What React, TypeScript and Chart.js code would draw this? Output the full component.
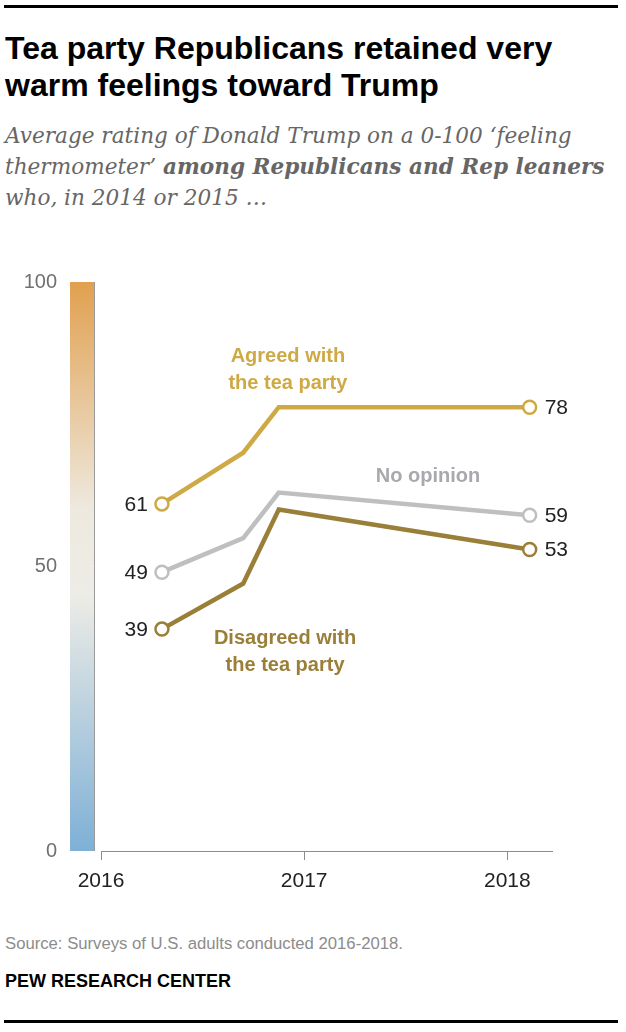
import React, { useEffect, useRef } from "react";
import { Chart, registerables } from "chart.js";

Chart.register(...registerables);

// survey dates as decimal years
const surveyDates = [2016.3, 2016.7, 2016.875, 2018.11];
const agreedValues = [61, 70, 78, 78];
const noOpinionValues = [49, 55, 63, 59];
const disagreedValues = [39, 47, 60, 53];
const seriesNames = ["Agreed with the tea party", "No opinion", "Disagreed with the tea party"];
const yTicks = [0, 50, 100];
const xTicks = [2016, 2017, 2018];

const GOLD = "#CEA945";
const GRAY = "#BEBFC1";
const OLIVE = "#9A7F38";

// in-chart labels, placed in data units
const annotations = [
  { lines: ["Agreed with", "the tea party"], x: 2016.92, y: 84.6, color: GOLD },
  { lines: ["No opinion"], x: 2017.61, y: 65.9, color: "#A7A9AC" },
  { lines: ["Disagreed with", "the tea party"], x: 2016.906, y: 35, color: OLIVE },
];

const sideBarPlugin = {
  id: "sideBar",
  beforeDatasetsDraw(chart: any) {
    const { ctx, scales } = chart;
    const top = scales.y.getPixelForValue(100);
    const bottom = scales.y.getPixelForValue(0);
    const g = ctx.createLinearGradient(0, bottom, 0, top);
    g.addColorStop(0, "#7EB0D6");
    g.addColorStop(0.45, "#EDECE6");
    g.addColorStop(0.6, "#EEE9DF");
    g.addColorStop(1, "#E1A04F");
    ctx.save();
    ctx.fillStyle = g;
    ctx.fillRect(70, top, 24, bottom - top);
    ctx.strokeStyle = "#9a9a9a";
    ctx.lineWidth = 1;
    ctx.beginPath();
    ctx.moveTo(94.5, top);
    ctx.lineTo(94.5, bottom);
    ctx.stroke();
    ctx.restore();
  },
};

const labelPlugin = {
  id: "valueLabels",
  afterDatasetsDraw(chart: any) {
    const { ctx, scales } = chart;
    ctx.save();
    ctx.font = "21px 'Liberation Sans', Arial, sans-serif";
    ctx.fillStyle = "#222";
    ctx.textBaseline = "middle";
    chart.data.datasets.forEach((ds: any, i: number) => {
      const meta = chart.getDatasetMeta(i);
      const first = meta.data[0];
      const last = meta.data[meta.data.length - 1];
      ctx.textAlign = "right";
      ctx.fillText(String(ds.data[0].y), first.x - 14, first.y + 1);
      ctx.textAlign = "left";
      ctx.fillText(String(ds.data[ds.data.length - 1].y), last.x + 15, last.y + 1);
    });
    ctx.font = "bold 20px 'Liberation Sans', Arial, sans-serif";
    ctx.textAlign = "center";
    annotations.forEach((a) => {
      const cx = scales.x.getPixelForValue(a.x);
      const cy = scales.y.getPixelForValue(a.y);
      ctx.fillStyle = a.color;
      const lh = 27;
      const y0 = cy - ((a.lines.length - 1) * lh) / 2;
      a.lines.forEach((t, k) => ctx.fillText(t, cx, y0 + k * lh));
    });
    ctx.restore();
  },
};

const ThermometerChart: React.FC = () => {
  const canvasRef = useRef<HTMLCanvasElement | null>(null);

  useEffect(() => {
    if (!canvasRef.current) return;
    const ctx = canvasRef.current.getContext("2d");
    if (!ctx) return;
    Chart.defaults.font.family = "'Liberation Sans', Arial, sans-serif";
    const make = (values: number[], color: string, label: string) => ({
      label,
      data: surveyDates.map((d, i) => ({ x: d, y: values[i] })),
      borderColor: color,
      backgroundColor: "#fff",
      borderWidth: 4.5,
      borderJoinStyle: "miter" as const,
      pointRadius: (c: any) => (c.dataIndex === 0 || c.dataIndex === surveyDates.length - 1 ? 6.5 : 0),
      pointBorderWidth: 2.5,
      pointBorderColor: color,
      pointBackgroundColor: "#fff",
      tension: 0,
    });
    const chart = new Chart(ctx, {
      type: "line",
      data: {
        datasets: [
          make(agreedValues, GOLD, seriesNames[0]),
          make(noOpinionValues, GRAY, seriesNames[1]),
          make(disagreedValues, OLIVE, seriesNames[2]),
        ],
      },
      options: {
        animation: false,
        responsive: false,
        events: [],
        layout: { padding: { left: 0, right: 74, top: 42, bottom: 0 } },
        plugins: { legend: { display: false }, tooltip: { enabled: false } },
        scales: {
          x: {
            type: "linear",
            min: 2016,
            max: 2018.22,
            afterBuildTicks: (s: any) => {
              s.ticks = xTicks.map((v) => ({ value: v }));
            },
            afterFit: (s: any) => {
              s.height = 49;
              s.paddingLeft = 0;
              s.paddingRight = 0;
            },
            border: { display: true, color: "#8c8c8c", width: 1 },
            grid: { drawOnChartArea: false, drawTicks: true, tickLength: 9, color: "#8c8c8c" },
            ticks: {
              color: "#222",
              font: { size: 21 },
              padding: 9,
              maxRotation: 0,
              callback: (v: any) => String(v),
            },
          },
          y: {
            min: 0,
            max: 100,
            afterBuildTicks: (s: any) => {
              s.ticks = yTicks.map((v) => ({ value: v }));
            },
            afterFit: (s: any) => {
              s.width = 101;
              s.paddingTop = 0;
              s.paddingBottom = 0;
            },
            border: { display: false },
            grid: { display: false, drawTicks: false },
            ticks: { color: "#707070", font: { size: 20 }, padding: 44 },
          },
        },
      },
      plugins: [sideBarPlugin, labelPlugin],
    });
    return () => chart.destroy();
  }, []);

  return (
    <canvas
      ref={canvasRef}
      width={626}
      height={660}
      style={{ position: "absolute", left: 0, top: 240, width: 626, height: 660 }}
    />
  );
};

export default function App() {
  const rule: React.CSSProperties = {
    position: "absolute",
    left: 4,
    width: 614,
    height: 3,
    background: "#000",
  };
  return (
    <div style={{ position: "absolute", left: 0, top: 0, width: 626, height: 1032, background: "#fff" }}>
      <div style={{ ...rule, top: 5 }} />
      <div
        style={{
          position: "absolute",
          left: 5,
          top: 30,
          font: "bold 32px/37px 'Liberation Sans', Arial, sans-serif",
          color: "#000",
          whiteSpace: "nowrap",
        }}
      >
        Tea party Republicans retained very
        <br />
        warm feelings toward Trump
      </div>
      <div
        style={{
          position: "absolute",
          left: 5,
          top: 120,
          font: "italic 21.6px/31px 'DejaVu Serif', serif",
          color: "#666",
          whiteSpace: "nowrap",
        }}
      >
        Average rating of Donald Trump on a 0-100 ‘feeling
        <br />
        thermometer’ <b>among Republicans and Rep leaners</b>
        <br />
        who, in 2014 or 2015 …
      </div>
      <ThermometerChart />
      <div
        style={{
          position: "absolute",
          left: 5,
          top: 934,
          font: "16.7px/20px 'Liberation Sans', Arial, sans-serif",
          color: "#8c8c8c",
          whiteSpace: "nowrap",
        }}
      >
        Source: Surveys of U.S. adults conducted 2016-2018.
      </div>
      <div
        style={{
          position: "absolute",
          left: 5,
          top: 971,
          font: "bold 18px/20px 'Liberation Sans', Arial, sans-serif",
          color: "#000",
          whiteSpace: "nowrap",
        }}
      >
        PEW RESEARCH CENTER
      </div>
      <div style={{ ...rule, top: 1020 }} />
    </div>
  );
}
